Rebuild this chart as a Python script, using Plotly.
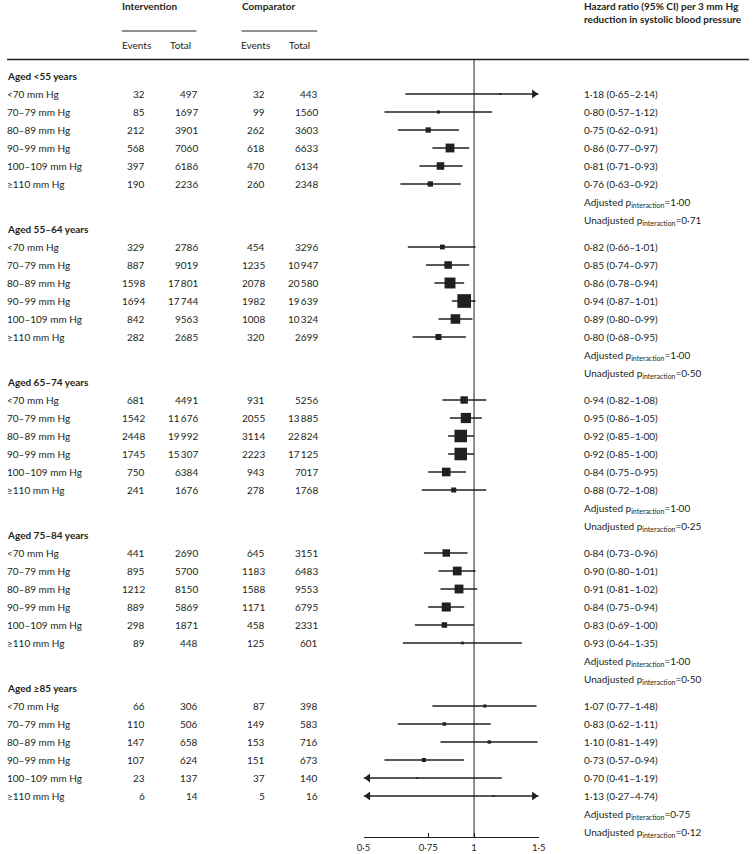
import math
import plotly.graph_objects as go

# ---------------- data ----------------
groups = ["Aged <55 years", "Aged 55–64 years", "Aged 65–74 years",
          "Aged 75–84 years", "Aged ≥85 years"]
sbp_cats = ["<70 mm Hg", "70–79 mm Hg", "80–89 mm Hg", "90–99 mm Hg",
            "100–109 mm Hg", "≥110 mm Hg"]

int_events = [
    [32, 85, 212, 568, 397, 190],
    [329, 887, 1598, 1694, 842, 282],
    [681, 1542, 2448, 1745, 750, 241],
    [441, 895, 1212, 889, 298, 89],
    [66, 110, 147, 107, 23, 6],
]
int_total = [
    [497, 1697, 3901, 7060, 6186, 2236],
    [2786, 9019, 17801, 17744, 9563, 2685],
    [4491, 11676, 19992, 15307, 6384, 1676],
    [2690, 5700, 8150, 5869, 1871, 448],
    [306, 506, 658, 624, 137, 14],
]
comp_events = [
    [32, 99, 262, 618, 470, 260],
    [454, 1235, 2078, 1982, 1008, 320],
    [931, 2055, 3114, 2223, 943, 278],
    [645, 1183, 1588, 1171, 458, 125],
    [87, 149, 153, 151, 37, 5],
]
comp_total = [
    [443, 1560, 3603, 6633, 6134, 2348],
    [3296, 10947, 20580, 19639, 10324, 2699],
    [5256, 13885, 22824, 17125, 7017, 1768],
    [3151, 6483, 9553, 6795, 2331, 601],
    [398, 583, 716, 673, 140, 16],
]
hr = [
    [1.18, 0.80, 0.75, 0.86, 0.81, 0.76],
    [0.82, 0.85, 0.86, 0.94, 0.89, 0.80],
    [0.94, 0.95, 0.92, 0.92, 0.84, 0.88],
    [0.84, 0.90, 0.91, 0.84, 0.83, 0.93],
    [1.07, 0.83, 1.10, 0.73, 0.70, 1.13],
]
hr_low = [
    [0.65, 0.57, 0.62, 0.77, 0.71, 0.63],
    [0.66, 0.74, 0.78, 0.87, 0.80, 0.68],
    [0.82, 0.86, 0.85, 0.85, 0.75, 0.72],
    [0.73, 0.80, 0.81, 0.75, 0.69, 0.64],
    [0.77, 0.62, 0.81, 0.57, 0.41, 0.27],
]
hr_high = [
    [2.14, 1.12, 0.91, 0.97, 0.93, 0.92],
    [1.01, 0.97, 0.94, 1.01, 0.99, 0.95],
    [1.08, 1.05, 1.00, 1.00, 0.95, 1.08],
    [0.96, 1.01, 1.02, 0.94, 1.00, 1.35],
    [1.48, 1.11, 1.49, 0.94, 1.19, 4.74],
]
p_adjusted = ["1·00", "1·00", "1·00", "1·00", "0·75"]
p_unadjusted = ["0·71", "0·50", "0·25", "0·50", "0·12"]

tick_vals = [0.5, 0.75, 1, 1.5]
tick_text = ["0·5", "0·75", "1", "1·5"]

# ---------------- layout constants ----------------
W, H = 756, 854
BOTTOM = 17
PLOT_H = H - BOTTOM
FIRST_Y = 76
ROW = 18
GROUP_STEP = 153
X_MIN, X_MAX = 0.5, 1.5
AX_L, AX_R = 363.3, 541.7
PX_PER_LOG = (AX_R - AX_L) / (math.log10(X_MAX) - math.log10(X_MIN))
TOP_RULE = 59.5

FONT = "Lato, Open Sans, sans-serif"
FS = 10
TXT = "#231f20"

COL_LABEL = 0
COL_IE = 141
COL_IT = 195
COL_CE = 263
COL_CT = 317
COL_HR = 588


def fmt_num(n):
    s = str(n)
    if n >= 10000:
        s = s[:-3] + "\u2009" + s[-3:]
    return s


def fmt_dec(v):
    return f"{v:.2f}".replace(".", "·")


annotations = []


def txt(xpx, y, text, anchor="left", size=FS, color=TXT):
    annotations.append(dict(
        x=xpx / W, xref="paper", y=y, yref="y", text=text, showarrow=False,
        xanchor=anchor, yanchor="middle", borderpad=0, borderwidth=0,
        font=dict(family=FONT, size=size, color=color)))


# headers
txt(117, 6, "<b>Intervention</b>")
txt(239, 6, "<b>Comparator</b>")
txt(117, 45, "Events")
txt(166, 45, "Total")
txt(238, 45, "Events")
txt(287, 45, "Total")
txt(COL_HR, 6, "<b>Hazard ratio (95% CI) per 3 mm Hg</b>")
txt(COL_HR, 18.5, "<b>reduction in systolic blood pressure</b>")

line_x, line_y = [], []
mk_x, mk_y, mk_s = [], [], []
arr_r_x, arr_r_y, arr_l_x, arr_l_y = [], [], [], []
ARROW_OFF = 4.6 / PX_PER_LOG

for g, gname in enumerate(groups):
    gy = FIRST_Y + g * GROUP_STEP
    txt(COL_LABEL, gy, f"<b>{gname}</b>")
    for r, cat in enumerate(sbp_cats):
        y = gy + (r + 1) * ROW
        txt(COL_LABEL, y, cat)
        txt(COL_IE, y, fmt_num(int_events[g][r]), "right")
        txt(COL_IT, y, fmt_num(int_total[g][r]), "right")
        txt(COL_CE, y, fmt_num(comp_events[g][r]), "right")
        txt(COL_CT, y, fmt_num(comp_total[g][r]), "right")
        h, lo, hi = hr[g][r], hr_low[g][r], hr_high[g][r]
        txt(COL_HR, y, f"{fmt_dec(h)} ({fmt_dec(lo)}–{fmt_dec(hi)})")
        line_x += [max(lo, X_MIN), min(hi, X_MAX), None]
        line_y += [y, y, None]
        se = (math.log(hi) - math.log(lo)) / 3.92
        mk_x.append(h)
        mk_y.append(y)
        mk_s.append(max(2.0, 0.52 / se))
        if hi > X_MAX:
            arr_r_x.append(10 ** (math.log10(X_MAX) - ARROW_OFF))
            arr_r_y.append(y)
        if lo < X_MIN:
            arr_l_x.append(10 ** (math.log10(X_MIN) + ARROW_OFF))
            arr_l_y.append(y)
    txt(COL_HR, gy + 7 * ROW,
        f"Adjusted p<sub>interaction</sub>={p_adjusted[g]}")
    txt(COL_HR, gy + 8 * ROW,
        f"Unadjusted p<sub>interaction</sub>={p_unadjusted[g]}")

fig = go.Figure()
fig.add_trace(go.Scatter(x=line_x, y=line_y, mode="lines",
                         line=dict(color="#231f20", width=1.3),
                         hoverinfo="skip", showlegend=False))
fig.add_trace(go.Scatter(x=mk_x, y=mk_y, mode="markers",
                         marker=dict(symbol="square", size=mk_s, opacity=1,
                                     color="#231f20", line=dict(width=0)),
                         cliponaxis=False, showlegend=False))
fig.add_trace(go.Scatter(x=arr_r_x, y=arr_r_y, mode="markers",
                         marker=dict(symbol="triangle-right", size=8, opacity=1,
                                     color="#231f20", line=dict(width=0)),
                         cliponaxis=False, showlegend=False))
fig.add_trace(go.Scatter(x=arr_l_x, y=arr_l_y, mode="markers",
                         marker=dict(symbol="triangle-left", size=8, opacity=1,
                                     color="#231f20", line=dict(width=0)),
                         cliponaxis=False, showlegend=False))

shapes = [
    dict(type="line", xref="paper", yref="y", x0=0, x1=1,
         y0=TOP_RULE, y1=TOP_RULE, line=dict(color="#231f20", width=1.3)),
    dict(type="line", xref="paper", yref="y", x0=117 / W, x1=193 / W,
         y0=31, y1=31, line=dict(color="#231f20", width=1)),
    dict(type="line", xref="paper", yref="y", x0=239 / W, x1=316 / W,
         y0=31, y1=31, line=dict(color="#231f20", width=1)),
    dict(type="line", xref="x", yref="y", x0=1, x1=1,
         y0=TOP_RULE, y1=PLOT_H, line=dict(color="#231f20", width=1)),
]

fig.update_layout(
    width=W, height=H,
    margin=dict(l=0, r=0, t=0, b=BOTTOM),
    paper_bgcolor="white", plot_bgcolor="white",
    showlegend=False,
    annotations=annotations,
    shapes=shapes,
    xaxis=dict(type="log", domain=[AX_L / W, AX_R / W],
               range=[math.log10(X_MIN), math.log10(X_MAX)],
               tickvals=tick_vals, ticktext=tick_text,
               ticks="inside", ticklen=4, tickwidth=1, tickcolor="#231f20",
               showline=True, linecolor="#231f20", linewidth=1,
               showgrid=False, zeroline=False, ticklabelstandoff=2,
               tickfont=dict(family=FONT, size=9.5, color=TXT)),
    yaxis=dict(range=[PLOT_H, 0], domain=[0, 1], visible=False,
               showgrid=False, zeroline=False),
)

fig.write_html("out.html",
               config={"displayModeBar": False},
               post_script="document.body.style.margin='0';")
